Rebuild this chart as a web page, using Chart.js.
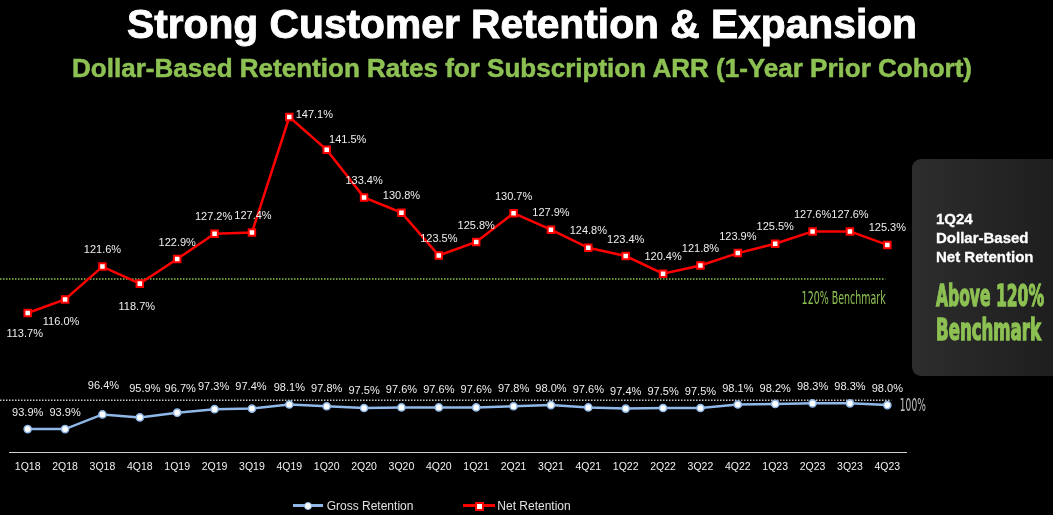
<!DOCTYPE html>
<html><head><meta charset="utf-8">
<script src="https://cdn.jsdelivr.net/npm/chart.js@4.4.1/dist/chart.umd.min.js"></script>
<style>
html,body{margin:0;padding:0;background:#000;}
#wrap{position:relative;width:1053px;height:515px;overflow:hidden;background:#000;font-family:"Liberation Sans",Arial,sans-serif;}
#c{position:absolute;left:0;top:0;}
.t{position:absolute;white-space:nowrap;transform-origin:0 0;line-height:1;}
#title{color:#fff;font-weight:bold;font-size:41px;left:127px;top:3.8px;-webkit-text-stroke:0.9px #fff;}
#subtitle{color:#8dc153;font-weight:bold;font-size:26px;left:72px;top:54.7px;-webkit-text-stroke:0.5px #8dc153;}
#panel{position:absolute;left:912px;top:159px;width:170px;height:217px;border-radius:9px;background:linear-gradient(90deg,#2d2d2d,#1b1b1b);}
.pw{color:#fff;font-weight:bold;font-size:15px;left:936px;-webkit-text-stroke:0.3px #fff;}
.pg{color:#8dc153;font-weight:bold;font-size:30px;left:936px;font-family:"DejaVu Sans Condensed","DejaVu Sans",sans-serif;font-stretch:condensed;-webkit-text-stroke:1.3px #8dc153;}
.lgtext{color:#e2e2e2;font-size:12px;top:500px;}
.lgline{position:absolute;height:3px;}
</style></head>
<body>
<div id="wrap">
  <div id="panel"></div>
  <canvas id="c" width="1053" height="515"></canvas>
  <div id="title" class="t" data-w="790">Strong Customer Retention &amp; Expansion</div>
  <div id="subtitle" class="t" data-w="900">Dollar-Based Retention Rates for Subscription ARR (1-Year Prior Cohort)</div>
  <div class="t pw" style="top:211.3px">1Q24</div>
  <div class="t pw" style="top:230px">Dollar-Based</div>
  <div class="t pw" style="top:249px">Net Retention</div>
  <div class="t pg" style="top:281.3px" data-w="108">Above 120%</div>
  <div class="t pg" style="top:314.6px" data-w="105">Benchmark</div>
  <div class="lgline" style="left:293px;top:504.3px;width:30px;background:#8fb8e8"></div>
  <div style="position:absolute;left:304px;top:501.7px;width:8px;height:8px;box-sizing:border-box;border:1.5px solid #8fb8e8;background:#fff;border-radius:50%"></div>
  <div class="t lgtext" style="left:326.7px">Gross Retention</div>
  <div class="lgline" style="left:463px;top:504.3px;width:32px;background:#ff0000"></div>
  <div style="position:absolute;left:475px;top:501.5px;width:9px;height:9px;box-sizing:border-box;border:2px solid #ff0000;background:#fff"></div>
  <div class="t lgtext" style="left:497.3px">Net Retention</div>
</div>
<script>
// ---- data ----
const quarters = ['1Q18','2Q18','3Q18','4Q18','1Q19','2Q19','3Q19','4Q19','1Q20','2Q20','3Q20','4Q20','1Q21','2Q21','3Q21','4Q21','1Q22','2Q22','3Q22','4Q22','1Q23','2Q23','3Q23','4Q23'];
const netRetention = [113.7,116.0,121.6,118.7,122.9,127.2,127.4,147.1,141.5,133.4,130.8,123.5,125.8,130.7,127.9,124.8,123.4,120.4,121.8,123.9,125.5,127.6,127.6,125.3];
const grossRetention = [93.9,93.9,96.4,95.9,96.7,97.3,97.4,98.1,97.8,97.5,97.6,97.6,97.6,97.8,98.0,97.6,97.4,97.5,97.5,98.1,98.2,98.3,98.3,98.0];
const referenceLines = [
  {value: 98.8, text: '100%'},
  {value: 119.5, text: '120% Benchmark'}
];

// ---- label placement (pixel offsets from each point) ----
const grossLabelDx = [0,0,1,5,3,-1,-1,0,0,0,0,0,0,0,0,0,0,0,0,0,0,0,0,0];
const grossLabelDy = [-16,-16,-28,-28,-24,-22,-22,-17,-17,-17,-17,-17,-17,-17,-16,-17,-17,-16,-16,-16,-15,-16,-16,-16];
const netLabelDx = [-3,-4,0,-3,0,-1,1,25,21,0,0,0,0,0,0,0,0,0,0,0,0,0,0,0];
const netLabelDy = [21,22.7,-16.5,23,-16.5,-16.5,-16.5,-2,-10,-16.5,-16.5,-16.5,-16.5,-16.5,-16.5,-16.5,-16.5,-16.5,-16.5,-16.5,-16.5,-16.5,-16.5,-16.5];

// fit HTML text to measured widths
document.querySelectorAll('[data-w]').forEach(el => {
  const w = el.getBoundingClientRect().width;
  el.style.transform = 'scaleX(' + (parseFloat(el.dataset.w) / w) + ')';
});

const pointLabels = {
  id: 'pointLabels',
  afterDatasetsDraw(chart) {
    const ctx = chart.ctx;
    ctx.save();
    ctx.font = '11px "Liberation Sans", Arial, sans-serif';
    ctx.fillStyle = '#eeeeee';
    ctx.textAlign = 'center';
    ctx.textBaseline = 'middle';
    chart.data.datasets.forEach((ds, di) => {
      const meta = chart.getDatasetMeta(di);
      meta.data.forEach((pt, i) => {
        ctx.fillText(ds.data[i].toFixed(1) + '%', pt.x + ds.labelDx[i], pt.y + ds.labelDy[i]);
      });
    });
    ctx.restore();
  }
};

const refLinePlugin = {
  id: 'refLines',
  beforeDatasetsDraw(chart, args, opts) {
    const ctx = chart.ctx;
    const y = chart.scales.y, x = chart.scales.x;
    const lastX = x.getPixelForValue(quarters.length - 1);
    ctx.save();
    opts.lines.forEach((ln, k) => {
      const st = opts.styles[k];
      const py = y.getPixelForValue(ln.value);
      ctx.strokeStyle = st.color;
      ctx.lineWidth = 1.5;
      ctx.setLineDash([1.5, 1.5]);
      ctx.beginPath();
      ctx.moveTo(0, py);
      ctx.lineTo(lastX + st.lineEnd, py);
      ctx.stroke();
      ctx.setLineDash([]);
      ctx.font = '17px "DejaVu Sans Condensed", "DejaVu Sans", sans-serif';
      ctx.fillStyle = st.color;
      ctx.textBaseline = 'alphabetic';
      ctx.textAlign = 'left';
      const w = ctx.measureText(ln.text).width;
      const sx = st.width / w;
      const left = st.align === 'right' ? lastX + st.dx - st.width : lastX + st.dx;
      ctx.save();
      ctx.translate(left, py + st.dy);
      ctx.scale(sx, 1);
      ctx.fillText(ln.text, 0, 0);
      ctx.restore();
    });
    ctx.restore();
  }
};

new Chart(document.getElementById('c'), {
  type: 'line',
  data: {
    labels: quarters,
    datasets: [
      {
        label: 'Gross Retention',
        data: grossRetention,
        labelDx: grossLabelDx, labelDy: grossLabelDy,
        borderColor: '#8fb8e8', borderWidth: 2.5,
        pointRadius: 3.6, pointBorderWidth: 1.5,
        pointBackgroundColor: '#ffffff', pointBorderColor: '#8fb8e8',
        tension: 0
      },
      {
        label: 'Net Retention',
        data: netRetention,
        labelDx: netLabelDx, labelDy: netLabelDy,
        borderColor: '#ff0000', borderWidth: 2.5,
        pointStyle: 'rect', pointRadius: 4.6, pointBorderWidth: 2,
        pointBackgroundColor: '#ffffff', pointBorderColor: '#ff0000',
        tension: 0
      }
    ]
  },
  options: {
    responsive: false,
    animation: false,
    devicePixelRatio: 1,
    layout: {padding: {left: 9, right: 147, top: 100, bottom: 38}},
    plugins: {
      legend: {display: false},
      tooltip: {enabled: false},
      refLines: {
        lines: referenceLines,
        styles: [
          {color: '#c4c4c4', lineEnd: 4, dx: 12.5, dy: 10.7, width: 26, align: 'left'},
          {color: '#8dc153', lineEnd: -2, dx: -1.7, dy: 25, width: 84, align: 'right'}
        ]
      }
    },
    scales: {
      x: {
        offset: true,
        grid: {display: false, drawTicks: false},
        border: {display: true, color: '#d0d0d0', width: 1},
        ticks: {color: '#f0f0f0', font: {size: 10.5, family: '"Liberation Sans", Arial, sans-serif'}, padding: 9, maxRotation: 0, autoSkip: false},
        afterFit(s) { s.height = 25; }
      },
      y: {display: false, min: 90, max: 150}
    }
  },
  plugins: [refLinePlugin, pointLabels]
});
</script>
</body></html>
